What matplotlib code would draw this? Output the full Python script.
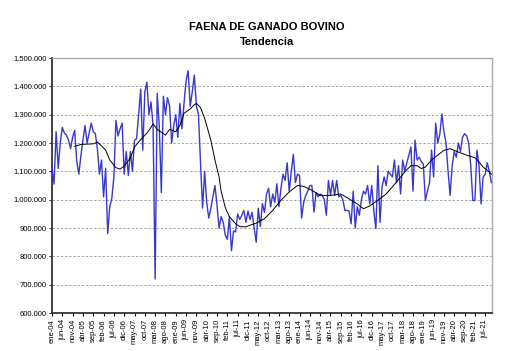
import matplotlib
matplotlib.use("Agg")
import matplotlib.pyplot as plt
from matplotlib.ticker import FuncFormatter, FixedLocator
import pandas as pd

# ---------------- data ----------------
meses = ["ene", "feb", "mar", "abr", "may", "jun", "jul", "ago", "sep", "oct", "nov", "dic"]
start = "2004-01"

# monthly cattle slaughter (heads), ene-04 .. oct-21
faena = [
    1110000, 1055000, 1240000, 1110000, 1200000, 1255000, 1235000, 1228000, 1210000, 1180000, 1220000, 1245000,  # 2004
    1135000, 1090000, 1155000, 1210000, 1262000, 1200000, 1235000, 1270000, 1240000, 1233000, 1180000, 1090000,  # 2005
    1140000, 1010000, 1110000, 880000, 975000, 1005000, 1080000, 1280000, 1225000, 1250000, 1270000, 1090000,   # 2006
    1170000, 1085000, 1170000, 1100000, 1210000, 1215000, 1300000, 1390000, 1175000, 1380000, 1415000, 1300000,  # 2007
    1345000, 1260000, 720000, 1375000, 1260000, 1025000, 1365000, 1300000, 1360000, 1330000, 1200000, 1260000,   # 2008
    1300000, 1220000, 1340000, 1250000, 1340000, 1420000, 1455000, 1330000, 1380000, 1440000, 1330000, 1300000,  # 2009
    1130000, 970000, 1100000, 990000, 935000, 970000, 1010000, 1050000, 980000, 900000, 940000, 920000,          # 2010
    875000, 860000, 940000, 820000, 890000, 886000, 950000, 930000, 945000, 962000, 920000, 960000,             # 2011
    930000, 955000, 900000, 850000, 970000, 905000, 986000, 955000, 1020000, 1040000, 975000, 1020000,          # 2012
    990000, 1056000, 975000, 1040000, 1090000, 1068000, 1130000, 1030000, 1100000, 1160000, 1060000, 1090000,   # 2013
    1085000, 935000, 990000, 1015000, 1030000, 1050000, 1050000, 956000, 1025000, 1010000, 1020000, 1015000,    # 2014
    1000000, 945000, 1068000, 1015000, 1068000, 1015000, 1068000, 1010000, 1015000, 1000000, 962000, 962000,    # 2015
    960000, 915000, 1030000, 900000, 975000, 945000, 1000000, 1030000, 1020000, 1050000, 985000, 1050000,       # 2016
    960000, 898000, 1120000, 920000, 1045000, 1080000, 1050000, 1100000, 1090000, 1080000, 1140000, 1060000,    # 2017
    1120000, 1020000, 1140000, 1100000, 1130000, 1157000, 1186000, 1030000, 1210000, 1140000, 1150000, 1135000, # 2018
    1125000, 997000, 1030000, 1060000, 1175000, 1080000, 1270000, 1200000, 1230000, 1303000, 1240000, 1200000,  # 2019
    1100000, 1015000, 1120000, 1170000, 1150000, 1200000, 1170000, 1220000, 1233000, 1225000, 1200000, 1120000, # 2020
    997000, 997000, 1175000, 1120000, 985000, 1080000, 1090000, 1130000, 1100000, 1060000,                      # 2021
]

# trend
tendencia_fechas = [
    "2004-12", "2005-03", "2005-06", "2005-09", "2005-11", "2006-01", "2006-03", "2006-05", "2006-08", "2006-10",
    "2006-12", "2007-03", "2007-05", "2007-08", "2007-11", "2008-01", "2008-02", "2008-04", "2008-06", "2008-08",
    "2008-10", "2009-01", "2009-03", "2009-05", "2009-08", "2009-10", "2009-11", "2010-01", "2010-03", "2010-06",
    "2010-08", "2010-10", "2010-11", "2011-01", "2011-03", "2011-06", "2011-08", "2011-11", "2012-01", "2012-04",
    "2012-08", "2012-12", "2013-04", "2013-08", "2013-12", "2014-03", "2014-07", "2014-11", "2015-04", "2015-09",
    "2016-01", "2016-05", "2016-08", "2016-11", "2017-03", "2017-07", "2017-12", "2018-04", "2018-07", "2018-10",
    "2018-12", "2019-02", "2019-05", "2019-09", "2019-11", "2020-02", "2020-06", "2020-10", "2021-02", "2021-04",
    "2021-06", "2021-09", "2021-10",
]
tendencia = [
    1188000, 1195000, 1196000, 1197000, 1203000, 1190000, 1175000, 1140000, 1113000, 1108000,
    1118000, 1148000, 1186000, 1212000, 1235000, 1255000, 1268000, 1248000, 1238000, 1228000,
    1248000, 1240000, 1262000, 1305000, 1320000, 1335000, 1340000, 1325000, 1287000, 1210000,
    1140000, 1080000, 1030000, 972000, 940000, 915000, 905000, 904000, 910000, 917000,
    933000, 962000, 998000, 1027000, 1050000, 1047000, 1033000, 1015000, 1015000, 1020000,
    1003000, 985000, 968000, 978000, 998000, 1020000, 1062000, 1098000, 1120000, 1120000,
    1110000, 1115000, 1140000, 1163000, 1174000, 1180000, 1168000, 1157000, 1148000, 1133000,
    1115000, 1098000, 1090000,
]

titulo = "FAENA DE GANADO BOVINO"
subtitulo = "Tendencia"

# ---------------- figure ----------------
plt.rcParams["font.family"] = ["Liberation Sans", "DejaVu Sans"]

fechas = pd.period_range(start, periods=len(faena), freq="M")
pos = {str(p): i for i, p in enumerate(fechas)}
x = list(range(len(faena)))
tx = [pos[d] for d in tendencia_fechas]

fig = plt.figure(figsize=(5.11, 3.51), dpi=100)
ax = fig.add_axes([52 / 511, 1 - 313 / 351, 440 / 511, 255 / 351])

ax.plot(x, faena, color="#3838cc", lw=1.0, zorder=3)
ax.plot(tx, tendencia, color="black", lw=0.7, zorder=4)

ax.set_ylim(600000, 1500000)
ax.set_xlim(0, len(faena) - 1 + 0.3)
ax.set_yticks(range(600000, 1500001, 100000))
ax.yaxis.set_major_formatter(FuncFormatter(lambda v, p: f"{int(v):,}".replace(",", ".")))

ticks = list(range(0, len(faena), 5))
ax.xaxis.set_major_locator(FixedLocator(ticks))
ax.set_xticklabels([f"{meses[fechas[i].month - 1]}-{str(fechas[i].year)[2:]}" for i in ticks],
                   rotation=90, fontsize=5.5)
ax.tick_params(axis="y", labelsize=5.5, length=2, width=0.6, pad=2)
ax.tick_params(axis="x", length=2.5, width=0.8, pad=2)

ax.grid(axis="y", color="#999999", ls=(0, (3, 2)), lw=0.6)
ax.set_axisbelow(True)
for s in ["left", "bottom"]:
    ax.spines[s].set_color("#333333")
    ax.spines[s].set_linewidth(1.3)
for s in ["top", "right"]:
    ax.spines[s].set_color("#aaaaaa")
    ax.spines[s].set_linewidth(1.0)

fig.text(267 / 511, 1 - 27 / 351, titulo, ha="center", va="center", fontsize=8, fontweight="bold")
fig.text(267 / 511, 1 - 42 / 351, subtitulo, ha="center", va="center", fontsize=8, fontweight="bold")

fig.savefig("out.png", dpi=100)
